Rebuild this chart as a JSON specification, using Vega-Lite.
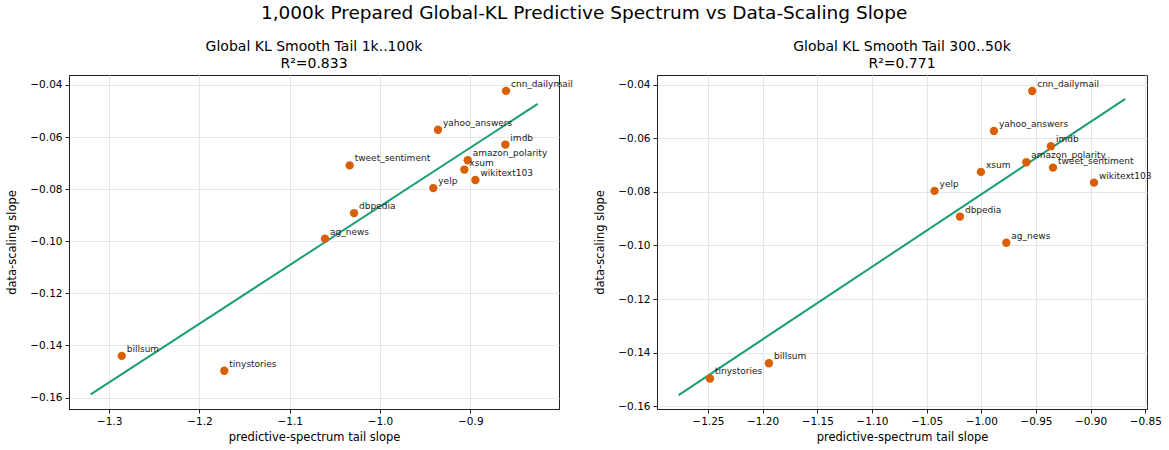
{
  "$schema": "https://vega.github.io/schema/vega-lite/v6.json",
  "background": "white",
  "padding": {"left": 6, "top": 4, "right": 5, "bottom": 4},
  "title": {"text": "1,000k Prepared Global-KL Predictive Spectrum vs Data-Scaling Slope", "fontSize": 18.5, "fontWeight": "normal", "anchor": "middle", "color": "#000", "offset": 17},
  "datasets": {
    "points": [
      {"panel": "A", "dataset": "cnn_dailymail", "tail": -0.8605, "slope": -0.0423},
      {"panel": "A", "dataset": "yahoo_answers", "tail": -0.9358, "slope": -0.0572},
      {"panel": "A", "dataset": "imdb", "tail": -0.8612, "slope": -0.0629},
      {"panel": "A", "dataset": "tweet_sentiment", "tail": -1.0336, "slope": -0.0709},
      {"panel": "A", "dataset": "amazon_polarity", "tail": -0.9029, "slope": -0.0689},
      {"panel": "A", "dataset": "xsum", "tail": -0.9066, "slope": -0.0725},
      {"panel": "A", "dataset": "wikitext103", "tail": -0.8944, "slope": -0.0765},
      {"panel": "A", "dataset": "yelp", "tail": -0.941, "slope": -0.0796},
      {"panel": "A", "dataset": "dbpedia", "tail": -1.0288, "slope": -0.0892},
      {"panel": "A", "dataset": "ag_news", "tail": -1.0609, "slope": -0.099},
      {"panel": "A", "dataset": "billsum", "tail": -1.286, "slope": -0.144},
      {"panel": "A", "dataset": "tinystories", "tail": -1.1724, "slope": -0.1497},
      {"panel": "B", "dataset": "cnn_dailymail", "tail": -0.9534, "slope": -0.0423},
      {"panel": "B", "dataset": "yahoo_answers", "tail": -0.9884, "slope": -0.0572},
      {"panel": "B", "dataset": "imdb", "tail": -0.9363, "slope": -0.0629},
      {"panel": "B", "dataset": "amazon_polarity", "tail": -0.9588, "slope": -0.0689},
      {"panel": "B", "dataset": "tweet_sentiment", "tail": -0.9344, "slope": -0.0709},
      {"panel": "B", "dataset": "xsum", "tail": -1.0003, "slope": -0.0725},
      {"panel": "B", "dataset": "wikitext103", "tail": -0.8969, "slope": -0.0765},
      {"panel": "B", "dataset": "yelp", "tail": -1.0427, "slope": -0.0796},
      {"panel": "B", "dataset": "dbpedia", "tail": -1.0195, "slope": -0.0892},
      {"panel": "B", "dataset": "ag_news", "tail": -0.9771, "slope": -0.099},
      {"panel": "B", "dataset": "billsum", "tail": -1.1942, "slope": -0.144},
      {"panel": "B", "dataset": "tinystories", "tail": -1.2482, "slope": -0.1497}
    ],
    "fits": [
      {"panel": "A", "tail": -1.3204, "slope": -0.1588},
      {"panel": "A", "tail": -0.8254, "slope": -0.0473},
      {"panel": "B", "tail": -1.2768, "slope": -0.1559},
      {"panel": "B", "tail": -0.8683, "slope": -0.0452}
    ]
  },
  "hconcat": [
    {
      "width": 490,
      "height": 334,
      "title": {"text": ["Global KL Smooth Tail 1k..100k", "R²=0.833"]},
      "layer": [
        {
          "data": {"name": "fits"},
          "transform": [{"filter": "datum.panel === 'A'"}],
          "mark": {"type": "line", "color": "#1b9e77", "strokeWidth": 2},
          "encoding": {
            "x": {"field": "tail", "type": "quantitative", "scale": {"domain": [-1.3444, -0.8018], "nice": false, "zero": false}, "axis": {"values": [-1.3, -1.2, -1.1, -1.0, -0.9], "format": ".1f", "title": "predictive-spectrum tail slope"}},
            "y": {"field": "slope", "type": "quantitative", "scale": {"domain": [-0.1644, -0.0362], "nice": false, "zero": false}, "axis": {"values": [-0.16, -0.14, -0.12, -0.10, -0.08, -0.06, -0.04], "format": ".2f", "title": "data-scaling slope", "titlePadding": 12}}
          }
        },
        {
          "data": {"name": "points"},
          "transform": [{"filter": "datum.panel === 'A'"}],
          "mark": {"type": "circle", "color": "#d95f02", "opacity": 1, "size": 70},
          "encoding": {
            "x": {"field": "tail", "type": "quantitative"},
            "y": {"field": "slope", "type": "quantitative"}
          }
        },
        {
          "data": {"name": "points"},
          "transform": [{"filter": "datum.panel === 'A'"}],
          "mark": {"type": "text", "align": "left", "baseline": "alphabetic", "dx": 5, "dy": -4, "fontSize": 9, "color": "#222"},
          "encoding": {
            "x": {"field": "tail", "type": "quantitative"},
            "y": {"field": "slope", "type": "quantitative"},
            "text": {"field": "dataset"}
          }
        }
      ]
    },
    {
      "width": 490,
      "height": 334,
      "title": {"text": ["Global KL Smooth Tail 300..50k", "R²=0.771"]},
      "layer": [
        {
          "data": {"name": "fits"},
          "transform": [{"filter": "datum.panel === 'B'"}],
          "mark": {"type": "line", "color": "#1b9e77", "strokeWidth": 2},
          "encoding": {
            "x": {"field": "tail", "type": "quantitative", "scale": {"domain": [-1.2966, -0.8484], "nice": false, "zero": false}, "axis": {"values": [-1.25, -1.2, -1.15, -1.1, -1.05, -1.0, -0.95, -0.9, -0.85], "format": ".2f", "title": "predictive-spectrum tail slope"}},
            "y": {"field": "slope", "type": "quantitative", "scale": {"domain": [-0.1611, -0.0363], "nice": false, "zero": false}, "axis": {"values": [-0.16, -0.14, -0.12, -0.10, -0.08, -0.06, -0.04], "format": ".2f", "title": "data-scaling slope", "titlePadding": 12}}
          }
        },
        {
          "data": {"name": "points"},
          "transform": [{"filter": "datum.panel === 'B'"}],
          "mark": {"type": "circle", "color": "#d95f02", "opacity": 1, "size": 70},
          "encoding": {
            "x": {"field": "tail", "type": "quantitative"},
            "y": {"field": "slope", "type": "quantitative"}
          }
        },
        {
          "data": {"name": "points"},
          "transform": [{"filter": "datum.panel === 'B'"}],
          "mark": {"type": "text", "align": "left", "baseline": "alphabetic", "dx": 5, "dy": -4, "fontSize": 9, "color": "#222"},
          "encoding": {
            "x": {"field": "tail", "type": "quantitative"},
            "y": {"field": "slope", "type": "quantitative"},
            "text": {"field": "dataset"}
          }
        }
      ]
    }
  ],
  "resolve": {"scale": {"x": "independent", "y": "independent"}},
  "config": {
    "font": "DejaVu Sans",
    "concat": {"spacing": 20},
    "view": {"stroke": "#222", "strokeWidth": 1},
    "title": {"fontSize": 14, "fontWeight": "normal", "color": "#000", "anchor": "middle", "offset": 4, "lineHeight": 17},
    "axis": {
      "labelFontSize": 10.5,
      "titleFontSize": 11.5,
      "titleFontWeight": "normal",
      "labelColor": "#000",
      "titleColor": "#000",
      "domainColor": "#222",
      "tickColor": "#222",
      "tickSize": 4,
      "gridColor": "#e6e6e6",
      "gridWidth": 1,
      "labelPadding": 3,
      "titlePadding": 5
    }
  }
}
